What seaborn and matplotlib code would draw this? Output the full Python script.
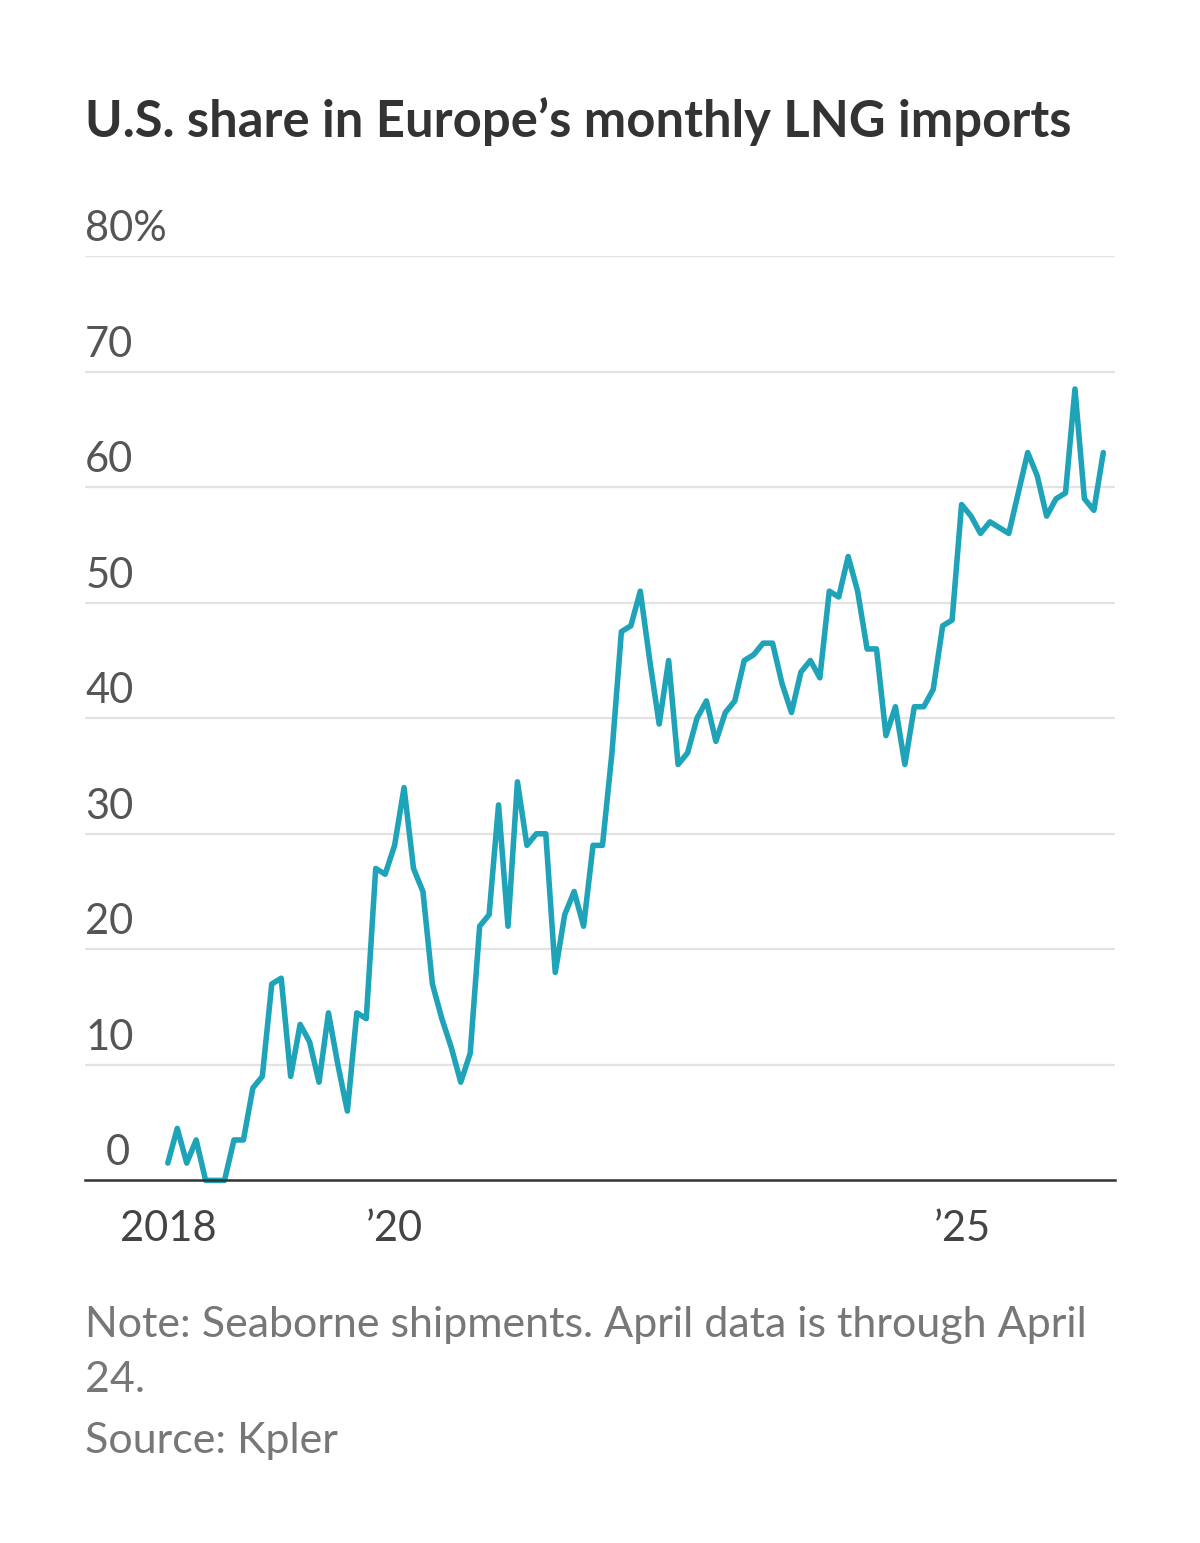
import pandas as pd
import matplotlib.pyplot as plt
import seaborn as sns

# Monthly U.S. share (%) of Europe's LNG imports, Jan 2018 - Apr 2026
share = [1.5, 4.5, 1.5, 3.5, 0, 0, 0, 3.5, 3.5, 8, 9, 17, 17.5, 9, 13.5, 12, 8.5, 14.5,
         10, 6, 14.5, 14, 27, 26.5, 29, 34, 27, 25, 17, 14, 11.5, 8.5, 11, 22, 23, 32.5,
         22, 34.5, 29, 30, 30, 18, 23, 25, 22, 29, 29, 37, 47.5, 48, 51, 45, 39.5, 45,
         36, 37, 40, 41.5, 38, 40.5, 41.5, 45, 45.5, 46.5, 46.5, 43, 40.5, 44, 45, 43.5,
         51, 50.5, 54, 51, 46, 46, 38.5, 41, 36, 41, 41, 42.5, 48, 48.5, 58.5, 57.5, 56,
         57, 56.5, 56, 59.5, 63, 61, 57.5, 59, 59.5, 68.5, 59, 58, 63]
dates = pd.date_range("2018-01-01", "2026-04-01", periods=len(share))
tick_years = list(range(2018, 2027))
tick_labels = ["2018", "", "\u201920", "", "", "", "", "\u201925", ""]
y_ticks = [0, 10, 20, 30, 40, 50, 60, 70, 80]

df = pd.DataFrame({"date": dates, "share": share})

sns.set_style("white")
plt.rcParams["font.family"] = ["Lato", "DejaVu Sans"]

fig = plt.figure(figsize=(12, 15.43), dpi=100)
ax = fig.add_axes([0.071, 0.235, 0.858, 0.599])
sns.lineplot(data=df, x="date", y="share", ax=ax, color="#1fa3b9", linewidth=4, clip_on=False)

ax.set_ylim(0, 80)
ax.set_xlim(pd.Timestamp("2017-04-10"), pd.Timestamp("2026-05-08"))
ax.set_yticks(y_ticks)
ax.set_yticklabels([])
for v in y_ticks[1:]:
    ax.axhline(v, color="#e3e3e3", linewidth=1.6, zorder=0)
for v in y_ticks:
    lab = f"{v}%" if v == 80 else str(v)
    ax.text(0.0 if v else 0.02, v + 0.7, lab, transform=ax.get_yaxis_transform(),
            fontsize=30, color="#555555", ha="left", va="bottom")

ax.set_xticks([pd.Timestamp(f"{y}-01-01") for y in tick_years])
ax.set_xticklabels(tick_labels, fontsize=30, color="#444444")
ax.tick_params(axis="x", length=7, width=1.5, color="#333333", pad=14, direction="out")
ax.tick_params(axis="y", length=0)
for s in ["top", "right", "left"]:
    ax.spines[s].set_visible(False)
ax.spines["bottom"].set_color("#333333")
ax.spines["bottom"].set_linewidth(1.8)
ax.set_xlabel("")
ax.set_ylabel("")

fig.text(0.071, 0.921, "U.S. share in Europe\u2019s monthly LNG imports", fontsize=36.5,
         fontweight="bold", color="#333333", ha="left", va="center")
fig.text(0.071, 0.1235, "Note: Seaborne shipments. April data is through April\n24.",
         fontsize=31, color="#777777", ha="left", va="center", linespacing=1.55)
fig.text(0.071, 0.066, "Source: Kpler", fontsize=31, color="#777777", ha="left", va="center")

fig.savefig("out.png", dpi=100, facecolor="white")
